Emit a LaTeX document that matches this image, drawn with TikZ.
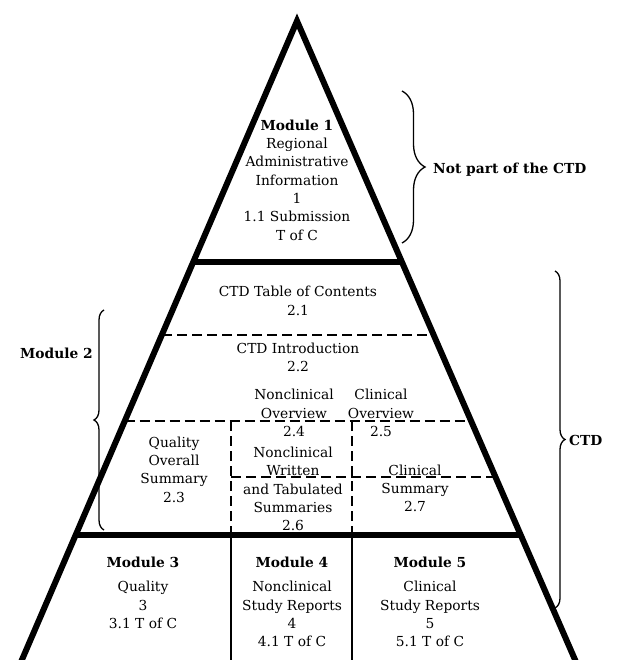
\documentclass[tikz,border=0pt]{standalone}
\usepackage{fontspec}
\setmainfont{DejaVu Serif}
\usetikzlibrary{calc,decorations.pathreplacing}

\begin{document}
\begin{tikzpicture}[
  x=1pt, y=-1pt,
  every node/.style={align=center, inner sep=0pt, font=\fontsize{13.8}{18.3}\selectfont},
  title/.style={font=\fontsize{13.8}{18.3}\selectfont\bfseries},
  side/.style={line width=6pt, line join=miter},
  split/.style={line width=6pt},
  subdiv/.style={line width=2pt, dash pattern=on 10pt off 5pt},
  column/.style={line width=1.6pt},
  bracket/.style={decorate, decoration={brace, amplitude=#1}, line width=1.3pt}
]

\useasboundingbox (0,0) rectangle (616,660);

% pyramid outline
\coordinate (apex) at (297,21);
\coordinate (bl) at (21,662);
\coordinate (br) at (576,662);
\draw[side] (bl) -- (apex) -- (br);

% points on the two sides
\coordinate (l1) at ($(apex)!0.3760!(bl)$); \coordinate (r1) at ($(apex)!0.3760!(br)$);
\coordinate (l2) at ($(apex)!0.4891!(bl)$); \coordinate (r2) at ($(apex)!0.4891!(br)$);
\coordinate (l3) at ($(apex)!0.6246!(bl)$); \coordinate (r3) at ($(apex)!0.6246!(br)$);
\coordinate (r4) at ($(apex)!0.7118!(br)$);
\coordinate (l5) at ($(apex)!0.8022!(bl)$); \coordinate (r5) at ($(apex)!0.8022!(br)$);
\coordinate (col1) at (231,421);
\coordinate (col2) at (352,421);

\draw[split] (l1) -- (r1);
\draw[split] (l5) -- (r5);
\draw[subdiv] (l2) -- (r2);
\draw[subdiv] (l3) -- (r3);
\draw[subdiv] (col1 |- r4) -- (r4);
\draw[subdiv] (col1) -- (col1 |- l5);
\draw[subdiv] (col2) -- (col2 |- l5);
\draw[column] (col1 |- l5) -- (col1 |- bl);
\draw[column] (col2 |- l5) -- (col2 |- bl);

% module 1
\node (mod1) at (297,180) {\textbf{Module 1}\\Regional\\Administrative\\Information\\1\\1.1 Submission\\T of C};

% module 2
\node (toc) at (298,301) {CTD Table of Contents\\2.1};
\node (intro) at (298,357.5) {CTD Introduction\\2.2};
\node (ncov) at (294,413) {Nonclinical\\Overview\\2.4};
\node (clov) at (381,413) {Clinical\\Overview\\2.5};
\node (qos) at (174,469.5) {Quality\\Overall\\Summary\\2.3};
\node (ncsum) at (293,489) {Nonclinical\\Written\\and Tabulated\\Summaries\\2.6};
\node (clsum) at (415,488.5) {Clinical\\Summary\\2.7};

% modules 3 to 5
\node[title] (m3t) at (143,562) {Module 3};
\node (m3b) at (143,605) {Quality\\3\\3.1 T of C};
\node[title] (m4t) at (292,562) {Module 4};
\node (m4b) at (292,614) {Nonclinical\\Study Reports\\4\\4.1 T of C};
\node[title] (m5t) at (430,562) {Module 5};
\node (m5b) at (430,614) {Clinical\\Study Reports\\5\\5.1 T of C};

% braces
\draw[bracket=23] (402,91) -- (402,243);
\node[title, anchor=west] (notctd) at (433,170) {Not part of the CTD};
\draw[bracket=10] (555,271) -- (555,608);
\node[title, anchor=west] (ctd) at (569,440) {CTD};
\draw[bracket=10] (104,530) -- (104,310);
\node[title, anchor=east] (mod2) at (93,353) {Module 2};

\end{tikzpicture}
\end{document}
